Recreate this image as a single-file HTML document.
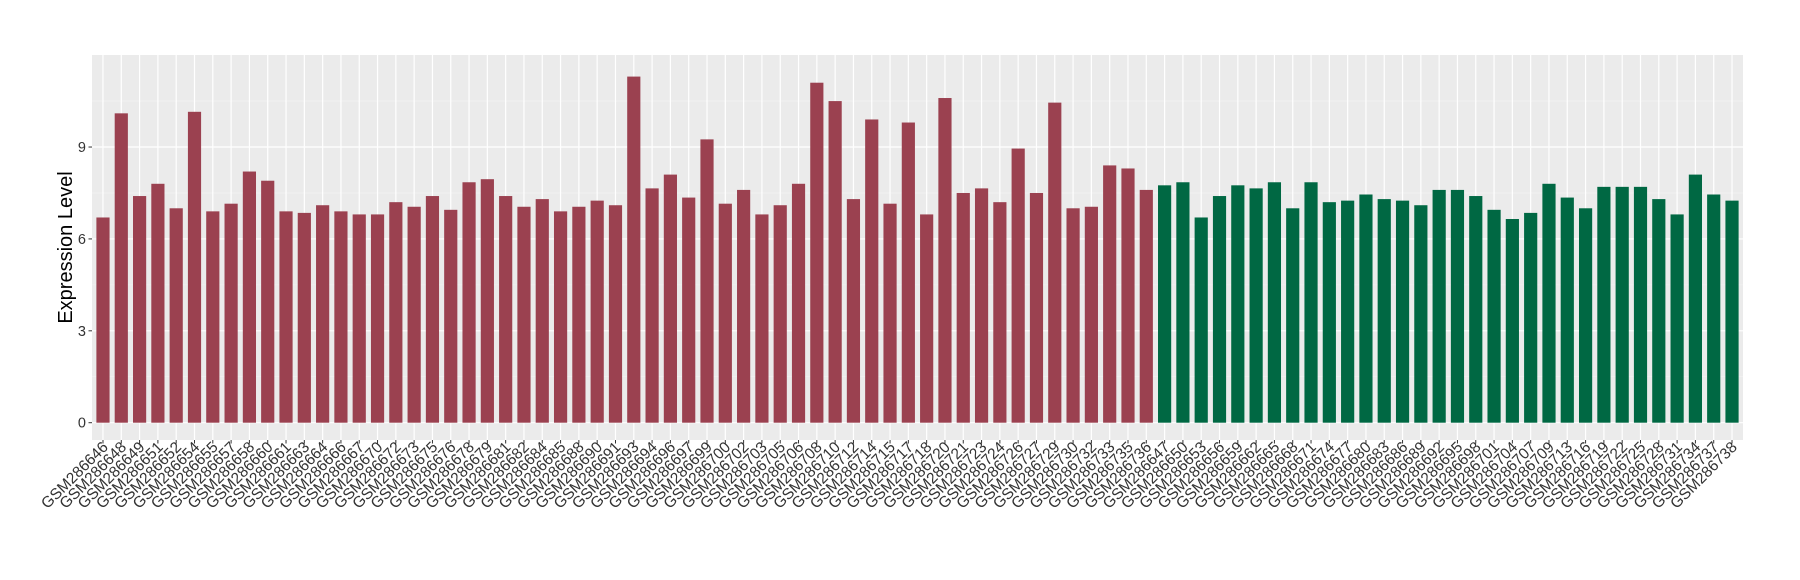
<!DOCTYPE html>
<html><head><meta charset="utf-8"><style>
html,body{margin:0;padding:0;background:#fff;}
svg{display:block;font-family:"Liberation Sans",sans-serif;}
</style></head><body>
<svg id="s" width="1800" height="580" xmlns="http://www.w3.org/2000/svg"></svg>
<script>
const s=document.getElementById('s');
const NS='http://www.w3.org/2000/svg';
function el(t,a,txt){const e=document.createElementNS(NS,t);for(const k in a)e.setAttribute(k,a[k]);if(txt!==undefined)e.textContent=txt;s.appendChild(e);return e;}
const red=[646,648,649,651,652,654,655,657,658,660,661,663,664,666,667,670,672,673,675,676,678,679,681,682,684,685,688,690,691,693,694,696,697,699,700,702,703,705,706,708,710,712,714,715,717,718,720,721,723,724,726,727,729,730,732,733,735,736];
const rv=[6.7,10.1,7.4,7.8,7.0,10.15,6.9,7.15,8.2,7.9,6.9,6.85,7.1,6.9,6.8,6.8,7.2,7.05,7.4,6.95,7.85,7.95,7.4,7.05,7.3,6.9,7.05,7.25,7.1,11.3,7.65,8.1,7.35,9.25,7.15,7.6,6.8,7.1,7.8,11.1,10.5,7.3,9.9,7.15,9.8,6.8,10.6,7.5,7.65,7.2,8.95,7.5,10.45,7.0,7.05,8.4,8.3,7.6];
const grn=[647,650,653,656,659,662,665,668,671,674,677,680,683,686,689,692,695,698,701,704,707,709,713,716,719,722,725,728,731,734,737,738];
const gv=[7.75,7.85,6.7,7.4,7.75,7.65,7.85,7.0,7.85,7.2,7.25,7.45,7.3,7.25,7.1,7.6,7.6,7.4,6.95,6.65,6.85,7.8,7.35,7.0,7.7,7.7,7.7,7.3,6.8,8.1,7.45,7.25];
const L=92,R=1743,T=55,B=440,Y0=422.7,U=30.63;
const n=90,w=(R-L)/90.2;
el('rect',{x:L,y:T,width:R-L,height:B-T,fill:'#ebebeb'});
for(const v of [1.5,4.5,7.5,10.5])el('line',{x1:L,x2:R,y1:Y0-v*U,y2:Y0-v*U,stroke:'#f5f5f5','stroke-width':0.6});
for(const v of [0,3,6,9])el('line',{x1:L,x2:R,y1:Y0-v*U,y2:Y0-v*U,stroke:'#fff','stroke-width':1.2});
for(let i=0;i<n;i++){const cx=L+(i+0.6)*w;el('line',{x1:cx,x2:cx,y1:T,y2:B,stroke:'#fff','stroke-width':1.2});}
const names=red.map(x=>'GSM286'+x).concat(grn.map(x=>'GSM286'+x));
const vals=rv.concat(gv);
const bw=w*0.72;
for(let i=0;i<n;i++){
 const cx=L+(i+0.6)*w;const h=vals[i]*U;
 el('rect',{x:cx-bw/2,y:Y0-h,width:bw,height:h,fill:i<58?'#9b4150':'#006843'});
 el('line',{x1:cx,x2:cx,y1:B,y2:B+3.5,stroke:'#333','stroke-width':1});
 el('text',{x:cx+6,y:B+8,'font-size':15.5,fill:'#333','text-anchor':'end',transform:`rotate(-45 ${cx+6} ${B+8})`},names[i]);
}
for(const v of [0,3,6,9]){const y=Y0-v*U;
 el('line',{x1:L-3.5,x2:L,y1:y,y2:y,stroke:'#333','stroke-width':1});
 el('text',{x:L-6,y:y+5,'font-size':14.5,fill:'#333','text-anchor':'end'},String(v));}
el('text',{x:72,y:(T+B)/2,'font-size':20,fill:'#000','text-anchor':'middle',transform:`rotate(-90 72 ${(T+B)/2})`},'Expression Level');
</script>
</body></html>
